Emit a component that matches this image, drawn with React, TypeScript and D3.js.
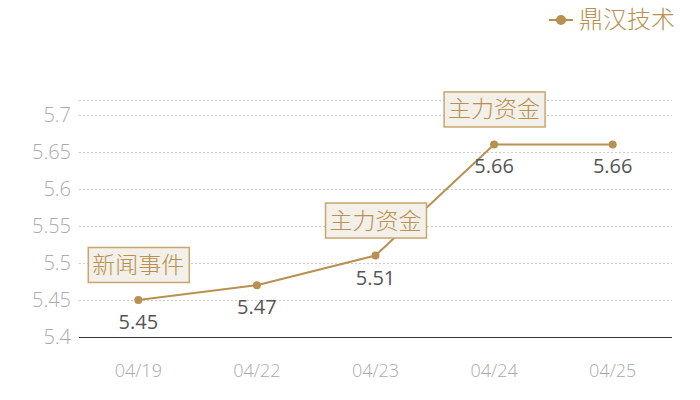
import { scaleBand, scaleLinear, line } from 'd3'

const dates = ['04/19', '04/22', '04/23', '04/24', '04/25']
const prices = [5.45, 5.47, 5.51, 5.66, 5.66]
const yTicks = [5.4, 5.45, 5.5, 5.55, 5.6, 5.65, 5.7]
const events = [
  { date: '04/19', text: '新闻事件' },
  { date: '04/23', text: '主力资金' },
  { date: '04/24', text: '主力资金' },
]
const seriesName = '鼎汉技术'

const width = 700
const height = 400
const left = 79
const right = 672
const top = 100
const bottom = 337
const gold = '#b89050'
const font = '"Noto Sans CJK SC", "Noto Sans", sans-serif'
const numFont = '"Open Sans", "Noto Sans", sans-serif'

export default function App() {
  const x = scaleBand<string>().domain(dates).range([left, right])
  const y = scaleLinear().domain([5.4, 5.72]).range([bottom, top])
  const cx = (d: string) => (x(d) ?? 0) + x.bandwidth() / 2
  const path = line<number>()
    .x((_, i) => cx(dates[i]))
    .y((v) => y(v))(prices)

  return (
    <svg
      width={width}
      height={height}
      style={{ position: 'absolute', left: 0, top: 0, fontFamily: font, fontWeight: 300 }}
    >
      <rect width={width} height={height} fill="#fff" />
      {[...yTicks.slice(1), 5.72].map((t) => (
        <line
          key={t}
          x1={left}
          x2={right}
          y1={Math.round(y(t)) + 0.5}
          y2={Math.round(y(t)) + 0.5}
          stroke="#ccc"
          strokeDasharray="2 2"
        />
      ))}
      <line x1={left} x2={right} y1={bottom + 0.5} y2={bottom + 0.5} stroke="#333" />
      {yTicks.map((t) => (
        <text key={t} x={71} y={y(t)} dy="0.35em" textAnchor="end" fontSize={20} fill="#aaa" fontFamily={numFont}>
          {t}
        </text>
      ))}
      {dates.map((d) => (
        <text key={d} x={cx(d)} y={371} dy="0.35em" textAnchor="middle" fontSize={18} fill="#aaa" fontFamily={numFont}>
          {d}
        </text>
      ))}
      <path d={path ?? ''} fill="none" stroke={gold} strokeWidth={2} />
      {prices.map((v, i) => (
        <g key={i}>
          <circle cx={cx(dates[i])} cy={y(v)} r={4} fill={gold} />
          <text x={cx(dates[i])} y={y(v) + 22} dy="0.35em" textAnchor="middle" fontSize={20} fill="#555" fontFamily={numFont} fontWeight={400}>
            {v}
          </text>
        </g>
      ))}
      {events.map((e, i) => {
        const v = prices[dates.indexOf(e.date)]
        const ex = cx(e.date)
        const ey = y(v) - 35
        return (
          <g key={i}>
            <rect x={ex - 50} y={ey - 17.5} width={101} height={35} fill="#f3efe9" stroke="#c9a66e" strokeWidth={1.5} />
            <text x={ex} y={ey} dy="0.35em" textAnchor="middle" fontSize={23} fill={gold}>
              {e.text}
            </text>
          </g>
        )
      })}
      <line x1={549} x2={573} y1={20} y2={20} stroke={gold} strokeWidth={2} />
      <circle cx={561} cy={20} r={5} fill={gold} />
      <text x={579} y={20} dy="0.35em" fontSize={24} fill={gold}>
        {seriesName}
      </text>
    </svg>
  )
}
